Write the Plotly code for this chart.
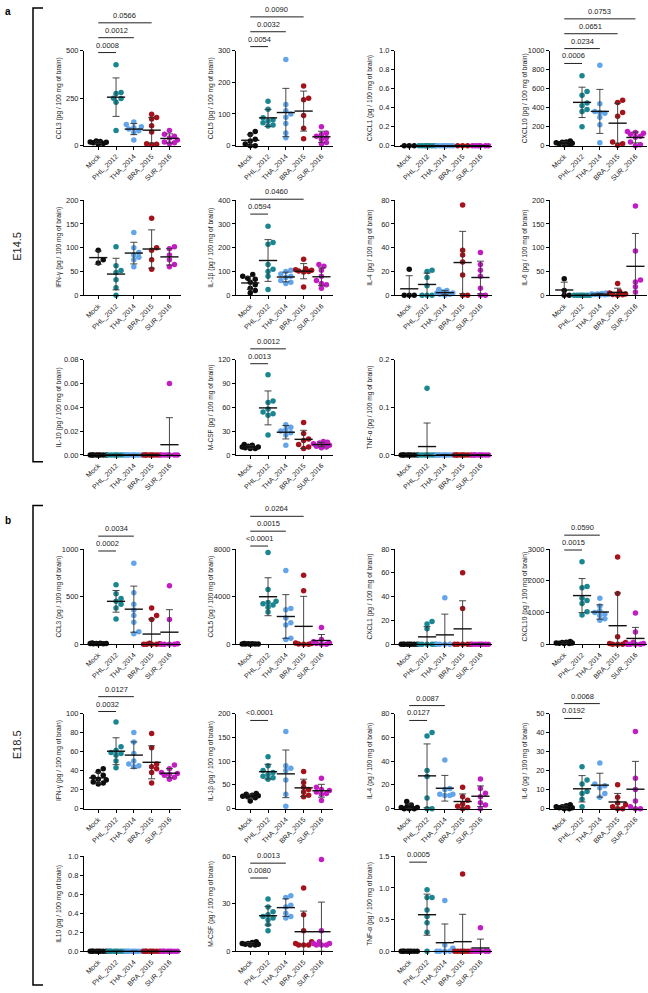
import numpy as np
import plotly.graph_objects as go

W, H = 648, 993
FONT = "Liberation Sans, Arial, sans-serif"

groups = ["Mock", "PHL_2012", "THA_2014", "BRA_2015", "SUR_2016"]
colors = ["#0d0d0d", "#1a8691", "#62a5ea", "#a5121b", "#c21dc2"]

# ---------------- E14.5 ----------------
e14_ccl3 = [[8, 12, 15, 18, 20, 22, 25],
            [425, 280, 275, 250, 248, 228, 80],
            [125, 112, 100, 95, 88, 78, 70, 30],
            [165, 148, 140, 105, 72, 10, 5, 8],
            [80, 60, 50, 40, 30, 20, 15, 10]]
e14_ccl5 = [[45, 35, 20, 15, 5, 0, 0],
            [140, 115, 88, 82, 78, 72, 65, 62],
            [272, 130, 110, 100, 90, 70, 40, 25],
            [188, 150, 145, 95, 55, 22],
            [60, 40, 35, 30, 25, 20, 10, 5]]
e14_cxcl1 = [[0] * 3, [0] * 7, [0] * 7, [0] * 3, [0] * 6]
e14_cxcl10 = [[50, 40, 35, 30, 25, 20, 15, 10],
              [735, 570, 530, 450, 420, 380, 360, 200],
              [845, 440, 360, 350, 340, 300, 220, 30],
              [478, 455, 350, 310, 40, 20, 5],
              [150, 140, 130, 120, 100, 90, 40, 10, 0]]
e14_ifng = [[95, 75, 68],
            [102, 62, 52, 48, 33, 16, 0],
            [132, 100, 90, 85, 80, 75, 60],
            [162, 100, 95, 75, 55],
            [102, 98, 85, 75, 65, 60]]
e14_il1b = [[88, 80, 72, 68, 55, 45, 30, 20, 10],
            [290, 222, 215, 130, 110, 100, 80, 25],
            [105, 100, 90, 80, 75, 62, 55, 50],
            [152, 112, 108, 105, 102, 100, 98, 35],
            [130, 122, 105, 80, 62, 50, 45, 30]]
e14_il4 = [[22, 0, 0, 0],
           [21, 20, 15, 8, 0, 0, 0],
           [5, 4, 3, 2, 2, 1, 1, 0],
           [76, 38, 34, 28, 17, 0, 0],
           [36, 26, 21, 16, 6, 0, 0]]
e14_il6 = [[35, 10, 0, 0],
           [0] * 7,
           [5, 4, 3, 3, 2, 2, 1, 0],
           [25, 8, 5, 3, 2, 1, 0],
           [188, 93, 32, 28, 18, 7]]
e14_il10 = [[0] * 8, [0] * 7, [0] * 8, [0] * 8, [0.06, 0, 0, 0, 0, 0, 0]]
e14_mcsf = [[13, 12, 11, 10, 10, 9, 8, 8],
            [101, 68, 66, 58, 54, 52, 50, 25],
            [38, 35, 32, 30, 28, 25, 12],
            [41, 27, 20, 18, 13, 10, 8],
            [17, 16, 15, 14, 13, 12, 11, 10, 9]]
e14_tnfa = [[0] * 8, [0.14] + [0] * 7, [0] * 8, [0] * 8, [0] * 8]

# ---------------- E18.5 ----------------
e18_ccl3 = [[12, 10, 8, 8, 6, 5, 5, 4],
            [625, 530, 480, 450, 420, 380, 265],
            [850, 540, 420, 360, 300, 230, 130, 110],
            [380, 300, 260, 10, 5, 0, 0, 0, 0],
            [615, 260, 5, 0, 0, 0, 0]]
e18_ccl5 = [[50, 40, 30, 20, 20, 10, 10, 0],
            [7700, 4600, 3600, 3500, 3400, 3300, 3100, 2700],
            [6200, 3000, 2900, 2200, 1800, 1600, 500, 400],
            [5800, 4500, 100, 50, 20, 0, 0],
            [1400, 400, 200, 100, 50, 0, 0]]
e18_cxcl1 = [[0] * 8,
             [19, 17, 13, 0, 0, 0, 0, 0],
             [39, 0, 0, 0, 0],
             [60, 30, 0, 0, 0, 0, 0],
             [0] * 7]
e18_cxcl10 = [[80, 60, 50, 40, 40, 30, 20, 20],
              [2600, 1820, 1780, 1450, 1380, 1280, 1020, 920],
              [1450, 1200, 1050, 1000, 950, 900, 800, 750],
              [2750, 1600, 230, 50, 20, 0, 0, 0],
              [980, 380, 60, 20, 0, 0, 0, 0]]
e18_ifng = [[42, 39, 35, 33, 31, 30, 28, 27, 26],
            [91, 65, 61, 59, 58, 56, 50, 43],
            [80, 70, 58, 50, 47, 45, 44],
            [79, 64, 47, 44, 42, 38, 27],
            [46, 42, 38, 37, 36, 35, 33, 31]]
e18_il1b = [[32, 30, 28, 27, 26, 25, 23, 16],
            [109, 90, 80, 76, 72, 68, 65, 62],
            [162, 90, 85, 80, 60, 30, 5],
            [78, 55, 45, 40, 35, 28, 25],
            [64, 45, 40, 38, 35, 32, 30, 17]]
e18_il4 = [[6, 3, 2, 1, 1, 0, 0, 0],
           [64, 61, 32, 27, 9, 0, 0],
           [41, 17, 16, 12, 12, 11, 11],
           [18, 10, 7, 4, 2, 1, 0],
           [25, 17, 13, 10, 5, 3, 0]]
e18_il6 = [[2, 1.5, 1, 1, 0.5, 0.5, 0, 0],
           [22, 15, 13, 9, 8, 5, 1],
           [24, 13, 12, 11, 8, 6],
           [12.5, 6, 3, 2, 1, 0, 0],
           [40.5, 16, 10, 4, 1, 0, 0]]
e18_il10 = [[0] * 8, [0] * 8, [0] * 8, [0] * 8, [0] * 8]
e18_mcsf = [[6, 5.5, 5, 5, 4.5, 4.5, 4, 4],
            [33, 28, 25, 23, 22, 21, 20, 17, 13],
            [35, 34, 29, 28, 24, 22, 21],
            [40, 23, 13, 6, 5, 4, 4, 4],
            [58, 13, 6, 5, 5, 4, 4, 4]]
e18_tnfa = [[0] * 8,
            [0.97, 0.85, 0.85, 0.65, 0.55, 0.45, 0.30, 0.0],
            [0.8, 0.1, 0.05, 0, 0, 0, 0],
            [1.22, 0, 0, 0, 0, 0, 0, 0],
            [0.37, 0, 0, 0, 0, 0, 0]]

# p-values vs Mock: (group index, label)
e14_ccl3_p = [(1, "0.0008"), (2, "0.0012"), (3, "0.0566")]
e14_ccl5_p = [(1, "0.0054"), (2, "0.0032"), (3, "0.0090")]
e14_cxcl10_p = [(1, "0.0006"), (2, "0.0234"), (3, "0.0651"), (4, "0.0753")]
e14_il1b_p = [(1, "0.0594"), (3, "0.0460")]
e14_mcsf_p = [(1, "0.0013"), (2, "0.0012")]
e18_ccl3_p = [(1, "0.0002"), (2, "0.0034")]
e18_ccl5_p = [(1, "<0.0001"), (2, "0.0015"), (3, "0.0264")]
e18_cxcl10_p = [(1, "0.0015"), (2, "0.0590")]
e18_ifng_p = [(1, "0.0032"), (2, "0.0127")]
e18_il1b_p = [(1, "<0.0001")]
e18_il4_p = [(1, "0.0127"), (2, "0.0087")]
e18_il6_p = [(1, "0.0192"), (2, "0.0068")]
e18_mcsf_p = [(1, "0.0080"), (2, "0.0013")]
e18_tnfa_p = [(1, "0.0005")]

# (data, y label, y max, tick step, tick format, p-values)
panel_a = [
    (e14_ccl3, "CCL3", 500, 250, "d", e14_ccl3_p),
    (e14_ccl5, "CCL5", 300, 100, "d", e14_ccl5_p),
    (e14_cxcl1, "CXCL1", 1.0, 0.2, ".1f", []),
    (e14_cxcl10, "CXCL10", 1000, 200, "d", e14_cxcl10_p),
    (e14_ifng, "IFN-γ", 200, 50, "d", []),
    (e14_il1b, "IL-1β", 400, 100, "d", e14_il1b_p),
    (e14_il4, "IL-4", 80, 20, "d", []),
    (e14_il6, "IL-6", 200, 50, "d", []),
    (e14_il10, "IL-10", 0.08, 0.02, ".2f", []),
    (e14_mcsf, "M-CSF", 120, 30, "d", e14_mcsf_p),
    (e14_tnfa, "TNF-α", 0.2, 0.1, ".1f", []),
]
panel_b = [
    (e18_ccl3, "CCL3", 1000, 500, "d", e18_ccl3_p),
    (e18_ccl5, "CCL5", 8000, 4000, "d", e18_ccl5_p),
    (e18_cxcl1, "CXCL1", 80, 20, "d", []),
    (e18_cxcl10, "CXCL10", 3000, 1000, "d", e18_cxcl10_p),
    (e18_ifng, "IFN-γ", 100, 20, "d", e18_ifng_p),
    (e18_il1b, "IL-1β", 200, 50, "d", e18_il1b_p),
    (e18_il4, "IL-4", 80, 20, "d", e18_il4_p),
    (e18_il6, "IL-6", 50, 10, "d", e18_il6_p),
    (e18_il10, "IL10", 1.0, 0.2, ".1f", []),
    (e18_mcsf, "M-CSF", 60, 30, "d", e18_mcsf_p),
    (e18_tnfa, "TNF-α", 1.5, 0.5, ".1f", e18_tnfa_p),
]

# layout in pixels
cols_px = [84, 236, 395, 550]
PW, PH = 97, 96
rows_a = [47, 198, 359]
rows_b = [550, 716, 860]
base_a = [2, -4, 0, 13, 0, 14, 0, 0, 0, 4, 0]
base_b = [2, -3, 0, 1, -2, 7, 7, 5, 0, 22, 6]
STEP = 15
XR = [-0.8, 4.65]


def swarm(vals, upx, cpx, d=5.0, maxw=0.45):
    vals = np.asarray(vals, float)
    offs = np.zeros(len(vals))
    placed = []
    lim = maxw * cpx
    for i in np.argsort(vals, kind="stable"):
        y = vals[i] * upx
        best = None
        for k in range(0, 12):
            for s in ([1] if k == 0 else [1, -1]):
                c = s * k * d / 2
                if abs(c) > lim:
                    continue
                if all((c - px) ** 2 + (y - py) ** 2 >= (0.95 * d) ** 2 for px, py in placed):
                    best = c
                    break
            if best is not None:
                break
        if best is None:
            cands = np.linspace(-lim, lim, 9)
            best = max(cands, key=lambda c: min((c - px) ** 2 + (y - py) ** 2 for px, py in placed))
        placed.append((best, y))
        offs[i] = best / cpx
    return offs


fig = go.Figure()
shapes, annos, lay = [], [], {}
k = 0
for panel, rows, bases in [(panel_a, rows_a, base_a), (panel_b, rows_b, base_b)]:
    for i, (data, name, ymax, dtick, fmt, pv) in enumerate(panel):
        k += 1
        r, c = divmod(i, 4)
        x0, top = cols_px[c], rows[r]
        sx = "" if k == 1 else str(k)
        xr, yr = "x" + sx, "y" + sx
        upx = PH / ymax
        cpx = PW / (XR[1] - XR[0])
        for g, vals in enumerate(data):
            offs = swarm(vals, upx, cpx)
            fig.add_trace(go.Scatter(
                x=g + offs, y=vals, mode="markers", xaxis=xr, yaxis=yr,
                marker=dict(size=5.5, color=colors[g]), cliponaxis=False, showlegend=False))
        means = [float(np.mean(v)) for v in data]
        sds = [float(np.std(v, ddof=1)) if len(v) > 1 else 0.0 for v in data]
        fig.add_trace(go.Scatter(
            x=list(range(5)), y=means, mode="markers", xaxis=xr, yaxis=yr,
            marker=dict(symbol="line-ew", size=13, line=dict(width=1.4, color="#111")),
            error_y=dict(type="data", array=sds, arrayminus=[min(s, m) for s, m in zip(sds, means)],
                         color="#333", thickness=0.9, width=3.5),
            cliponaxis=False, showlegend=False))

        lay["xaxis" + sx] = dict(
            domain=[x0 / W, (x0 + PW) / W], anchor=yr, range=XR,
            tickvals=list(range(5)), ticktext=groups, tickangle=-45,
            showline=True, linecolor="black", linewidth=1, ticks="outside",
            ticklen=3, tickwidth=1, tickcolor="black", showgrid=False, zeroline=False,
            tickfont=dict(size=7, color="#222", family=FONT))
        lay["yaxis" + sx] = dict(
            domain=[1 - (top + PH) / H, 1 - top / H], anchor=xr, range=[0, ymax],
            dtick=dtick, tick0=0, tickformat=fmt,
            showline=True, linecolor="black", linewidth=1, ticks="outside",
            ticklen=3, tickwidth=1, tickcolor="black", showgrid=False, zeroline=False,
            tickfont=dict(size=7.5, color="#222", family=FONT))
        annos.append(dict(
            text=name + " (pg / 100 mg of brain)", textangle=-90, showarrow=False,
            xref="paper", yref="paper", x=(x0 - 25) / W, y=1 - (top + PH / 2) / H,
            xanchor="center", yanchor="middle", font=dict(size=6.6, color="#222", family=FONT)))
        for lvl, (g, txt) in enumerate(pv):
            yd = 1 - (bases[i] - lvl * STEP) / PH
            shapes.append(dict(type="line", xref=xr, yref=yr + " domain", x0=0, x1=g, y0=yd, y1=yd,
                               line=dict(color="#222", width=1)))
            annos.append(dict(text=txt, showarrow=False, xref=xr, yref=yr + " domain",
                              x=g / 2, y=yd + 1.0 / PH, xanchor="center", yanchor="bottom",
                              font=dict(size=7.5, color="#222", family=FONT)))

# panel brackets and labels
for ytop, ybot in [(4, 462), (506, 990)]:
    shapes.append(dict(type="path", xref="paper", yref="paper",
                       path="M {a},{t} L {b},{t} L {b},{u} L {a},{u}".format(
                           a=43 / W, b=33 / W, t=1 - ytop / H, u=1 - ybot / H),
                       line=dict(color="black", width=1.5)))
for txt, yy in [("a", 8), ("b", 521)]:
    annos.append(dict(text="<b>" + txt + "</b>", showarrow=False, xref="paper", yref="paper",
                      x=3 / W, y=1 - yy / H, xanchor="left", yanchor="middle",
                      font=dict(size=10, color="black", family=FONT)))
for txt, yy in [("E14.5", 245), ("E18.5", 748)]:
    annos.append(dict(text=txt, textangle=-90, showarrow=False, xref="paper", yref="paper",
                      x=17 / W, y=1 - yy / H, xanchor="center", yanchor="middle",
                      font=dict(size=11, color="#222", family=FONT)))

fig.update_layout(width=W, height=H, margin=dict(l=0, r=0, t=0, b=0),
                  plot_bgcolor="white", paper_bgcolor="white",
                  shapes=shapes, annotations=annos, **lay)
fig.write_html("out.html", config={"displayModeBar": False},
               post_script="document.body.style.margin='0px';document.body.style.overflow='hidden';")
